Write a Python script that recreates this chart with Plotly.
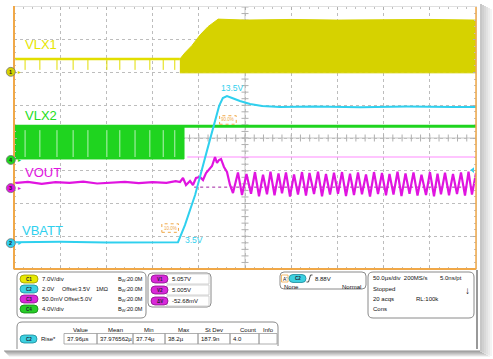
import plotly.graph_objects as go

W, H = 493, 359
PX0, PX1, PY0, PY1 = 14, 476, 7, 269  # plot box in pixels

# ---------------- data (screen divisions: x 0..10 @ 50us/div, y 0..8 div) ----
pulse_x = [0.24, 0.56, 0.93, 1.28, 1.60, 2.01, 2.29, 2.62, 2.94, 3.23, 3.48]

vlx1_level = 6.41
vlx1_spike = 6.08
vlx1_env_x = [3.59, 3.70, 3.85, 4.03, 4.20, 4.42, 5.0, 6.0, 7.0, 8.0, 9.0, 10.0]
vlx1_env_top = [6.41, 6.60, 6.82, 7.15, 7.40, 7.63, 7.60, 7.62, 7.60, 7.61, 7.62, 7.60]
vlx1_env_bot = 5.99

vlx2_hi = 4.36
vlx2_lo = 3.36
vlx2_burst_end = 3.68

vout_pre_x = [0, 0.3, 0.6, 0.9, 1.2, 1.5, 1.8, 2.1, 2.4, 2.7, 3.0, 3.3, 3.5,
              3.593, 3.658, 3.723, 3.810, 3.874, 3.939, 4.026, 4.091, 4.156,
              4.221, 4.286, 4.351, 4.394, 4.437, 4.481, 4.545, 4.610, 4.675, 4.740]
vout_pre_y = [2.62, 2.66, 2.60, 2.65, 2.63, 2.67, 2.61, 2.64, 2.66, 2.62, 2.65, 2.63, 2.68,
              2.656, 2.779, 2.565, 2.687, 2.565, 2.779, 2.809, 2.718, 2.931,
              3.023, 3.145, 3.420, 3.237, 3.328, 3.359, 3.115, 2.962, 2.565, 2.321]
vout_peak_x = [4.848, 5.032, 5.216, 5.390, 5.552, 5.725, 5.887, 6.061, 6.234, 6.396,
               6.580, 6.753, 6.926, 7.100, 7.273, 7.446, 7.619, 7.792, 7.965, 8.128,
               8.301, 8.474, 8.647, 8.820, 9.004, 9.167, 9.329, 9.502, 9.675, 9.838, 10.0]
vout_peak_y = [2.95, 2.90, 2.96, 2.88, 2.97, 2.92, 2.95, 2.89, 2.96, 2.93, 2.97, 2.90,
               2.94, 2.96, 2.91, 2.95, 2.89, 2.96, 2.93, 2.90, 2.97, 2.92, 2.95, 2.88,
               2.96, 2.91, 2.94, 2.90, 2.95, 2.97, 2.93]
vout_trough_x = [4.935, 5.130, 5.303, 5.476, 5.639, 5.801, 5.974, 6.147, 6.320, 6.494,
                 6.667, 6.840, 7.013, 7.186, 7.359, 7.532, 7.706, 7.879, 8.052, 8.214,
                 8.387, 8.561, 8.734, 8.918, 9.091, 9.242, 9.416, 9.589, 9.762, 9.913]
vout_trough_y = [2.26, 2.30, 2.22, 2.28, 2.25, 2.31, 2.21, 2.27, 2.24, 2.29, 2.22, 2.27,
                 2.30, 2.23, 2.26, 2.28, 2.21, 2.29, 2.25, 2.27, 2.23, 2.30, 2.24, 2.26,
                 2.22, 2.28, 2.25, 2.29, 2.24, 2.27]

cursor_v1 = 3.42
cursor_v1_x0 = 3.75
cursor_v2 = 2.50
cursor_v2_x0 = 3.90

vbatt_x = [0, 1.0, 2.0, 3.0, 3.55, 3.70, 3.92, 4.18, 4.31, 4.44, 4.52, 4.61, 4.72,
           4.89, 5.11, 5.37, 5.76, 6.5, 7.5, 8.5, 9.5, 10]
vbatt_y = [0.82, 0.83, 0.81, 0.83, 0.82, 1.34, 2.26, 3.63, 4.31, 4.98, 5.22, 5.28, 5.22,
           5.13, 5.04, 4.98, 4.95, 4.96, 4.94, 4.96, 4.95, 4.95]

ch_names = ["1", "2", "3", "4"]
ch_offsets = [6.02, 0.79, 2.47, 3.33]
trig_level = 3.02

YEL, CYA, MAG, GRN = "#d6d200", "#2fd0ee", "#e014e0", "#1fd41f"
ch_colors = [YEL, CYA, MAG, GRN]
ORANGE = "#f0a848"
FONT = "Liberation Sans, Arial, sans-serif"
PY_PER_DIV = (PY1 - PY0) / 8.0

fig = go.Figure()

# center-cross ticks
ticks_y = [i * 0.2 for i in range(41)]
ticks_x = [i * 0.2 for i in range(51)]
fig.add_trace(go.Scatter(x=[5] * len(ticks_y), y=ticks_y, mode="markers",
                         marker=dict(symbol="line-ew", size=5, line=dict(width=1, color="#b0b0b0")),
                         hoverinfo="skip"))
fig.add_trace(go.Scatter(x=ticks_x, y=[4] * len(ticks_x), mode="markers",
                         marker=dict(symbol="line-ns", size=5, line=dict(width=1, color="#b0b0b0")),
                         hoverinfo="skip"))

# VLX1
fig.add_trace(go.Scatter(x=[0, vlx1_env_x[0]], y=[vlx1_level, vlx1_level], mode="lines",
                         line=dict(color="#e2de00", width=2.5), hoverinfo="skip"))
sx, sy = [], []
for p in pulse_x:
    sx += [p, p, None]
    sy += [vlx1_level, vlx1_spike, None]
fig.add_trace(go.Scatter(x=sx, y=sy, mode="lines", line=dict(color="#e2de00", width=1),
                         hoverinfo="skip"))
bx = vlx1_env_x + [vlx1_env_x[-1], vlx1_env_x[0]]
by = vlx1_env_top + [vlx1_env_bot, vlx1_env_bot]
fig.add_trace(go.Scatter(x=bx, y=by, mode="lines", fill="toself", fillcolor=YEL,
                         line=dict(color=YEL, width=1), hoverinfo="skip"))

# VLX2
fig.add_trace(go.Scatter(x=[0, vlx2_burst_end, vlx2_burst_end, 0],
                         y=[vlx2_lo, vlx2_lo, vlx2_hi, vlx2_hi], mode="lines", fill="toself",
                         fillcolor=GRN, line=dict(color=GRN, width=1), hoverinfo="skip"))
gx, gy = [], []
for p in pulse_x:
    gx += [p, p, None]
    gy += [vlx2_lo + 0.06, vlx2_hi - 0.12, None]
fig.add_trace(go.Scatter(x=gx, y=gy, mode="lines", line=dict(color="#dff7df", width=0.8),
                         hoverinfo="skip"))
fig.add_trace(go.Scatter(x=[0, 10], y=[vlx2_hi, vlx2_hi], mode="lines",
                         line=dict(color=GRN, width=3), hoverinfo="skip"))

# cursors
fig.add_trace(go.Scatter(x=[cursor_v1_x0, 10], y=[cursor_v1, cursor_v1], mode="lines",
                         line=dict(color="#ff8cff", width=1.2), hoverinfo="skip"))
fig.add_trace(go.Scatter(x=[cursor_v2_x0, 10], y=[cursor_v2, cursor_v2], mode="lines",
                         line=dict(color="#a020a0", width=1, dash="dot"), hoverinfo="skip"))

# VOUT
ox, oy = list(vout_pre_x), list(vout_pre_y)
for i in range(len(vout_peak_x)):
    ox.append(vout_peak_x[i]); oy.append(vout_peak_y[i])
    if i < len(vout_trough_x):
        ox.append(vout_trough_x[i]); oy.append(vout_trough_y[i])
fig.add_trace(go.Scatter(x=ox, y=oy, mode="lines", line=dict(color=MAG, width=2.2),
                         hoverinfo="skip"))

# VBATT
fig.add_trace(go.Scatter(x=vbatt_x, y=vbatt_y, mode="lines", line=dict(color=CYA, width=2),
                         hoverinfo="skip"))

# trigger level marker (right edge)
fig.add_trace(go.Scatter(x=[9.93], y=[trig_level], mode="markers",
                         marker=dict(symbol="triangle-left", size=5, color=CYA),
                         hoverinfo="skip"))


def X(px):
    return px / W


def Y(py):
    return 1 - py / H


shapes, annots = [], []


def rect(x0, y0, x1, y1, fill=None, line="#888", lw=1, dash=None):
    d = dict(type="rect", xref="paper", yref="paper", x0=X(x0), x1=X(x1), y0=Y(y0), y1=Y(y1),
             line=dict(color=line, width=lw), layer="above")
    if dash:
        d["line"]["dash"] = dash
    if fill:
        d["fillcolor"] = fill
    if lw == 0:
        d["line"] = dict(width=0)
    shapes.append(d)


def rrect(x0, y0, x1, y1, r, fill=None, line="#888", lw=1):
    p = (f"M {X(x0+r)},{Y(y0)} L {X(x1-r)},{Y(y0)} Q {X(x1)},{Y(y0)} {X(x1)},{Y(y0+r)} "
         f"L {X(x1)},{Y(y1-r)} Q {X(x1)},{Y(y1)} {X(x1-r)},{Y(y1)} L {X(x0+r)},{Y(y1)} "
         f"Q {X(x0)},{Y(y1)} {X(x0)},{Y(y1-r)} L {X(x0)},{Y(y0+r)} Q {X(x0)},{Y(y0)} {X(x0+r)},{Y(y0)} Z")
    d = dict(type="path", xref="paper", yref="paper", path=p,
             line=dict(color=line, width=lw), layer="above")
    if fill:
        d["fillcolor"] = fill
    shapes.append(d)


def line(x0, y0, x1, y1, color, w=1):
    shapes.append(dict(type="line", xref="paper", yref="paper", x0=X(x0), x1=X(x1),
                       y0=Y(y0), y1=Y(y1), line=dict(color=color, width=w), layer="above"))


def txt(px, py, s, anchor="left", size=6, color="#111", bold=False):
    annots.append(dict(xref="paper", yref="paper", x=X(px), y=Y(py),
                       text=f"<b>{s}</b>" if bold else s, showarrow=False,
                       xanchor=anchor, yanchor="middle",
                       font=dict(family=FONT, size=size, color=color)))


def badge(x0, y0, x1, y1, col, label, edge):
    rrect(x0, y0, x1, y1, (y1 - y0) / 2, fill=col, line=edge, lw=0.8)
    txt((x0 + x1) / 2, (y0 + y1) / 2 + 0.3, label, anchor="center", size=4.5, color="#223", bold=True)


# window shadow
for i in range(6):
    a = 0.22 - 0.035 * i
    rect(480 + 2 * i, 4 + i, 482 + 2 * i, 351 + i, fill=f"rgba(0,0,0,{a:.3f})", lw=0)
    rect(4 + i, 350 + i, 480 + 2 * i, 352 + i, fill=f"rgba(0,0,0,{a:.3f})", lw=0)

# plot frame (orange)
line(PX0, PY0 - 1, PX0, PY1, ORANGE, 2)
line(PX0, PY1, PX1, PY1, ORANGE, 2)
line(PX1, PY0, PX1, PY1, ORANGE, 1.5)
line(477, PY1 + 1, 477, 349, "#555", 1.2)

# channel ground markers on left edge (y from channel offsets)
r_div = 4.5 / PY_PER_DIV
for name, off, col in zip(ch_names, ch_offsets, ch_colors):
    shapes.append(dict(type="circle", xref="paper", yref="y", x0=X(6.3), x1=X(15.3),
                       y0=off - r_div, y1=off + r_div, fillcolor=col,
                       line=dict(color="#777", width=0.8), layer="above"))
    annots.append(dict(xref="paper", yref="y", x=X(10.8), y=off, text=f"<b>{name}</b>",
                       showarrow=False, xanchor="center", yanchor="middle",
                       font=dict(family=FONT, size=5.5, color="#222")))
    annots.append(dict(xref="paper", yref="y", x=X(16), y=off, text="▸",
                       showarrow=False, xanchor="left", yanchor="middle",
                       font=dict(family=FONT, size=6, color=col)))


# ---- on-screen labels (data coords) ----
def dlabel(x, y, s, color, size=13, anchor="left"):
    annots.append(dict(xref="x", yref="y", x=x, y=y, text=s, showarrow=False,
                       xanchor=anchor, yanchor="middle",
                       font=dict(family=FONT, size=size, color=color)))


dlabel(0.19, 6.84, "VLX1", "#e6e600")
dlabel(0.19, 4.70, "VLX2", "#22dd22")
dlabel(0.19, 2.96, "VOUT", MAG)
dlabel(0.12, 1.19, "VBATT", CYA)
dlabel(4.44, 5.53, "13.5V", CYA, size=8.5)
dlabel(3.66, 0.89, "3.5V", CYA, size=8.5)
for (cx, cy, s) in [(4.63, 4.55, "90.0%"), (3.38, 1.25, "10.0%")]:
    shapes.append(dict(type="rect", xref="x", yref="y", x0=cx - 0.18, x1=cx + 0.18,
                       y0=cy - 0.13, y1=cy + 0.13, line=dict(color=ORANGE, width=1, dash="dot"),
                       fillcolor="white", layer="above"))
    dlabel(cx, cy, s, ORANGE, size=4.5, anchor="center")

# ---- bottom panel ----
rrect(17, 272, 146, 318, 5, line="#8a8a8a", lw=1)
rows = [279, 289, 299, 309]
badge(20, rows[0] - 4, 38, rows[0] + 4, "#e8e800", "C1", "#999900")
badge(20, rows[1] - 4, 38, rows[1] + 4, "#3cd0e0", "C2", "#1a8a9a")
badge(20, rows[2] - 4, 38, rows[2] + 4, "#d828d8", "C3", "#8a108a")
badge(20, rows[3] - 4, 38, rows[3] + 4, "#28cc28", "C4", "#108a10")
txt(40, rows[0], "7.0V/div")
txt(40, rows[1], "2.0V")
txt(40, rows[2], "50.0mV")
txt(40, rows[3], "4.0V/div")
txt(60, rows[1], "Offset:3.5V", size=5.6)
txt(62, rows[2], "Offset:5.0V", size=5.6)
txt(94, rows[1], "1MΩ", size=5.6)
for r in rows:
    txt(145, r, "B<sub>W</sub>:20.0M", anchor="right", size=5.6)

rrect(148, 273, 211, 307, 4, line="#8a8a8a", lw=1)
crow = [279, 290, 301]
for r, lab, val in zip(crow, ["V1", "V2", "ΔV"], ["5.057V", "5.005V", "-52.68mV"]):
    rect(167, r - 5, 209, r + 5, line="#c8c8c8", lw=0.8)
    badge(151, r - 4, 168, r + 4, "#d828d8", lab, "#8a108a")
    txt(170, r, val)

rrect(280, 272, 366, 289, 4, line="#8a8a8a", lw=1)
rect(281.5, 275, 288, 282, line=ORANGE, lw=0.8)
txt(284.7, 278.6, "A'", anchor="center", size=5)
badge(289, 274.5, 306, 282.5, "#3cd0e0", "C2", "#1a8a9a")
shapes.append(dict(type="path", xref="paper", yref="paper",
                   path=f"M {X(306.5)},{Y(282)} L {X(308.5)},{Y(282)} L {X(310.5)},{Y(275)} L {X(312.5)},{Y(275)}",
                   line=dict(color="#222", width=0.8), layer="above"))
txt(313, 278.5, "8.88V")
txt(282, 287, "None")
txt(363, 287, "Normal", anchor="right")

rrect(368, 272, 474, 318, 5, line="#8a8a8a", lw=1)
txt(371, 278, "50.0µs/div  200MS/s")
txt(464, 278, "5.0ns/pt", anchor="right")
txt(371, 289, "Stopped")
txt(467, 290, "<b>↓</b>", anchor="center", size=10, color="#111")
txt(371, 299, "20 acqs")
txt(441, 299, "RL:100k", anchor="right")
txt(371, 309, "Cons")

shapes.append(dict(type="path", xref="paper", yref="paper",
                   path=(f"M {X(17)},{Y(349)} L {X(17)},{Y(327)} Q {X(17)},{Y(322)} {X(22)},{Y(322)} "
                         f"L {X(273)},{Y(322)} Q {X(278)},{Y(322)} {X(278)},{Y(327)} L {X(278)},{Y(346)}"),
                   line=dict(color="#8a8a8a", width=1), layer="above"))
heads = [(81, "Value"), (115, "Mean"), (149, "Min"), (183, "Max"), (214, "St Dev"),
         (248, "Count"), (268, "Info")]
for hx, h in heads:
    txt(hx, 330, h, anchor="center")
cells = [64, 97, 133, 165, 198, 230, 259, 277]
vals = ["37.96µs", "37.976562µ", "37.74µ", "38.2µ", "187.9n", "4.0", ""]
for i in range(7):
    rect(cells[i], 333.5, cells[i + 1], 344, line="#9a9a9a", lw=0.8)
    if vals[i]:
        txt(cells[i] + 1, 339, vals[i])
badge(20, 335, 37, 343, "#3cd0e0", "C2", "#1a8a9a")
txt(39, 339, "Rise*")

fig.update_layout(
    width=W, height=H, margin=dict(l=0, r=0, t=0, b=0),
    paper_bgcolor="white", plot_bgcolor="white", showlegend=False,
    shapes=shapes, annotations=annots,
    xaxis=dict(range=[0, 10], domain=[PX0 / W, PX1 / W], showgrid=True, dtick=1,
               gridcolor="#bdbdbd", griddash="dot", gridwidth=1, zeroline=False,
               showticklabels=False, ticks="inside", ticklen=3, tickcolor="#b0b0b0",
               minor=dict(ticks="inside", dtick=0.2, ticklen=2, tickcolor="#c0c0c0", showgrid=False),
               showline=True, linecolor="#e0e0e0", mirror="ticks", fixedrange=True),
    yaxis=dict(range=[0, 8], domain=[1 - PY1 / H, 1 - PY0 / H], showgrid=True, dtick=1,
               gridcolor="#bdbdbd", griddash="dot", gridwidth=1, zeroline=False,
               showticklabels=False, ticks="inside", ticklen=3, tickcolor="#b0b0b0",
               minor=dict(ticks="inside", dtick=0.2, ticklen=2, tickcolor="#c0c0c0", showgrid=False),
               showline=True, linecolor="#e0e0e0", mirror="ticks", fixedrange=True),
)
fig.add_shape(type="line", xref="x", yref="y", x0=5, x1=5, y0=0, y1=8,
              line=dict(color="#c4c4c4", width=1), layer="below")
fig.add_shape(type="line", xref="x", yref="y", x0=0, x1=10, y0=4, y1=4,
              line=dict(color="#c4c4c4", width=1), layer="below")

fig.write_html("out.html")
